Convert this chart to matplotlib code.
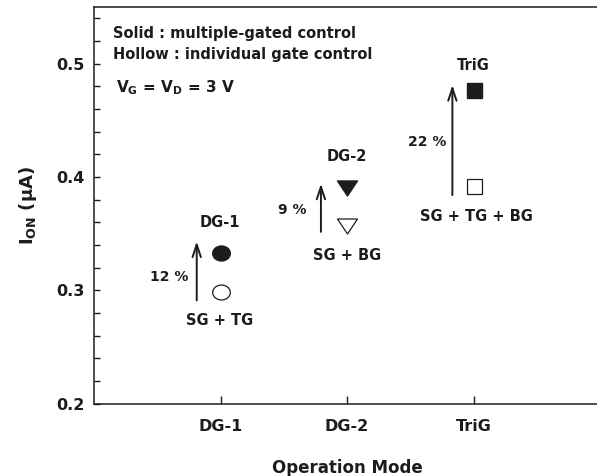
import numpy as np
import matplotlib.pyplot as plt
from matplotlib.path import Path
from matplotlib.transforms import Affine2D
from matplotlib.ticker import MultipleLocator

plt.rcParams['font.family'] = ['DejaVu Sans']
plt.rcParams['font.weight'] = 'bold'
plt.rcParams['axes.labelweight'] = 'bold'
plt.rcParams['mathtext.fontset'] = 'custom'
plt.rcParams['mathtext.rm'] = 'DejaVu Sans:bold'
plt.rcParams['mathtext.it'] = 'DejaVu Sans:bold'
plt.rcParams['mathtext.bf'] = 'DejaVu Sans:bold'
plt.rcParams['mathtext.default'] = 'rm'

modes = ['DG-1', 'DG-2', 'TriG']
gate_combos = ['SG + TG', 'SG + BG', 'SG + TG + BG']
ion_multi = [0.333, 0.390, 0.477]       # solid: multiple-gated control
ion_single = [0.298, 0.357, 0.392]      # hollow: individual gate control
gain_pct = [12, 9, 22]

# arrows (x, start, end) and where the annotations sit
arrow_x = [0.812, 1.794, 2.833]
arrow_lo = [0.291, 0.3515, 0.384]
arrow_hi = [0.343, 0.394, 0.481]
pct_x = [0.743, 1.676, 2.789]
pct_y = [0.3118, 0.3706, 0.4309]
name_x = [0.996, 1.998, 2.996]
name_y = [0.3595, 0.4177, 0.4985]
combo_x = [0.996, 2.0, 3.025]
combo_y = [0.2735, 0.331, 0.3647]

ink = '#1c1c1c'

# slightly wide shapes for the markers
ellipse = Path.unit_circle().transformed(Affine2D().scale(1.18, 1.0))
tri_v = Path([(-1, 0.75), (1, 0.75), (0, -0.75), (-1, 0.75)],
             [Path.MOVETO, Path.LINETO, Path.LINETO, Path.CLOSEPOLY])
marker_shapes = [ellipse, tri_v, 's']
marker_sizes = [12.7, 14.4, 10.8]

fig = plt.figure(figsize=(5.97, 4.76), dpi=100)
ax = fig.add_axes([94 / 597, 72.5 / 476, 506 / 597, 396.5 / 476])

x = np.arange(1, len(modes) + 1)
for i in range(len(modes)):
  m = marker_shapes[i]
  ms = marker_sizes[i]
  ax.plot(x[i], ion_multi[i], marker=m, ms=ms, color=ink, mec=ink, ls='none')
  ax.plot(x[i], ion_single[i], marker=m, ms=ms, mfc='white', mec=ink, mew=0.9, ls='none')
  ax.annotate('', xy=(arrow_x[i], arrow_hi[i]), xytext=(arrow_x[i], arrow_lo[i]),
              arrowprops=dict(arrowstyle='->,head_length=0.9,head_width=0.3',
                              lw=1.4, color=ink, shrinkA=0, shrinkB=0, mutation_scale=10))
  ax.text(pct_x[i], pct_y[i], '%d %%' % gain_pct[i],
          ha='right', va='center', fontsize=10, color=ink)
  ax.text(name_x[i], name_y[i], modes[i], ha='center', va='center', fontsize=10.5, color=ink)
  ax.text(combo_x[i], combo_y[i], gate_combos[i], ha='center', va='center', fontsize=10.5, color=ink)

ax.text(0.15, 0.5265, 'Solid : multiple-gated control', fontsize=10.5, color=ink, va='center')
ax.text(0.15, 0.5085, 'Hollow : individual gate control', fontsize=10.5, color=ink, va='center')
ax.text(0.17, 0.4785, '$V_G$ = $V_D$ = 3 V', fontsize=11, color=ink, va='center')

ax.set_xlim(0, 4)
ax.set_ylim(0.2, 0.55)
ax.set_xticks(x)
ax.set_xticklabels(modes)
ax.set_yticks([0.2, 0.3, 0.4, 0.5])
ax.yaxis.set_minor_locator(MultipleLocator(0.02))
ax.tick_params(axis='both', which='both', direction='in', colors=ink, labelsize=11.5)
ax.tick_params(axis='x', which='major', length=6, width=1, pad=11)
ax.tick_params(axis='y', which='major', length=4, width=1, pad=7)
ax.tick_params(axis='y', which='minor', length=4, width=1)
for s in ax.spines.values():
  s.set_linewidth(1.1)
  s.set_color(ink)

ax.set_xlabel('Operation Mode', fontsize=12, color=ink, labelpad=18)
ax.set_ylabel('$I_{ON}$ (μA)', fontsize=13, color=ink, labelpad=12)

fig.savefig('out.png', dpi=100)
